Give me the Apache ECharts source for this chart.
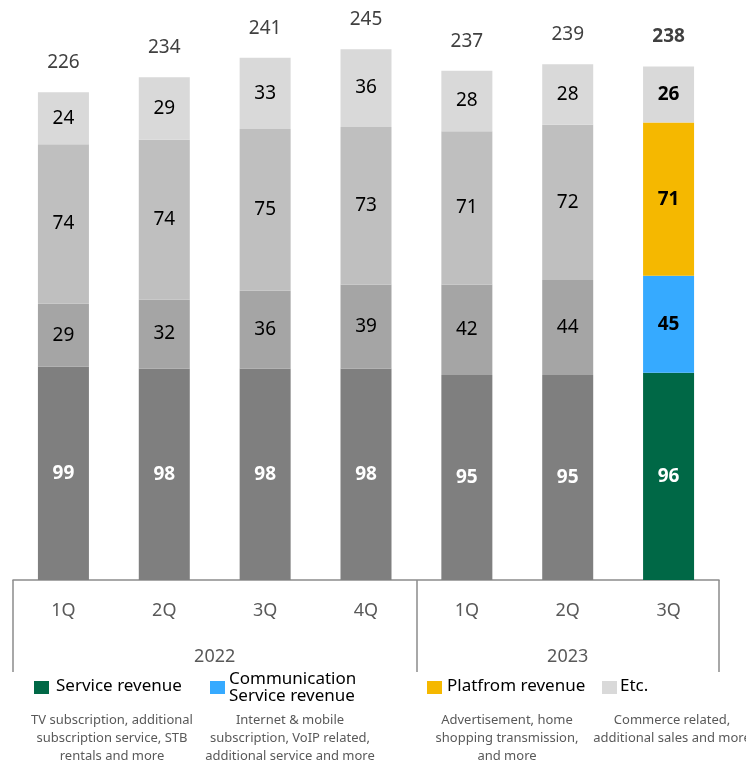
<!DOCTYPE html>
<html>
<head>
<meta charset="utf-8">
<script src="https://cdn.jsdelivr.net/npm/echarts@6/dist/echarts.min.js"></script>
<style>
  html, body { margin: 0; padding: 0; background: #fff; }
  #main { width: 746px; height: 763px; }
</style>
</head>
<body>
<div id="main"></div>
<script>
// data
var quarters = ["1Q", "2Q", "3Q", "4Q", "1Q", "2Q", "3Q"];
var years = ["2022", "2023"];
var yearSpans = [4, 3]; // quarters in each year
var service = [99, 98, 98, 98, 95, 95, 96];
var communication = [29, 32, 36, 39, 42, 44, 45];
var platform = [74, 74, 75, 73, 71, 72, 71];
var etc = [24, 29, 33, 36, 28, 28, 26];
var totals = [226, 234, 241, 245, 237, 239, 238];

var names = ["Service revenue", "Communication\nService revenue", "Platfrom revenue", "Etc."];
var notes = [
  "TV subscription, additional\nsubscription service, STB\nrentals and more",
  "Internet & mobile\nsubscription, VoIP related,\nadditional service and more",
  "Advertisement, home\nshopping transmission,\nand more",
  "Commerce related,\nadditional sales and more"
];

var FONT = "Noto Sans";
var grayColors = ["#7f7f7f", "#a5a5a5", "#bfbfbf", "#d9d9d9"];
var colors = ["#006846", "#36aaff", "#f5b800", "#d9d9d9"];
var lastIdx = quarters.length - 1;

// year label positions / separators on a 0..7 scale
var yearCenters = [], yearBounds = [0], acc = 0;
yearSpans.forEach(function (s) { yearCenters.push(acc + s / 2); acc += s; yearBounds.push(acc); });

function makeSeries(idx, values, labelColor) {
  return {
    name: names[idx],
    type: "bar",
    stack: "total",
    barWidth: 51,
    data: values.map(function (v, i) {
      var item = { value: v, itemStyle: { color: i === lastIdx ? colors[idx] : grayColors[idx] } };
      if (i === lastIdx) item.label = { fontWeight: "bold" };
      return item;
    }),
    label: {
      show: true,
      position: "inside",
      color: labelColor,
      fontFamily: FONT,
      fontSize: 19,
      fontWeight: idx === 0 ? "bold" : "normal"
    }
  };
}

var series = [
  makeSeries(0, service, "#ffffff"),
  makeSeries(1, communication, "#000000"),
  makeSeries(2, platform, "#000000"),
  makeSeries(3, etc, "#000000"),
  {
    name: "total",
    type: "bar",
    stack: "total",
    barWidth: 51,
    data: totals.map(function () { return 0; }),
    itemStyle: { color: "transparent" },
    label: {
      show: true,
      position: "top",
      distance: 20,
      color: "#404040",
      fontFamily: FONT,
      fontSize: 19,
      formatter: function (p) { return totals[p.dataIndex]; },
      rich: {}
    }
  }
];
series[4].data = totals.map(function (t, i) {
  return i === lastIdx ? { value: 0, label: { fontWeight: "bold" } } : 0;
});

// legend as graphic elements
var legendX = [34, 210, 427, 602];
var legendTextX = [56, 229, 447, 620];
var noteX = [112, 290, 507, 672];
var graphics = [];
names.forEach(function (n, i) {
  graphics.push({
    type: "rect",
    left: legendX[i], top: 681,
    shape: { width: 15, height: 13 },
    style: { fill: colors[i] }
  });
  graphics.push({
    type: "text",
    left: legendTextX[i], top: i === 1 ? 671 : 678,
    style: { text: n, fill: "#000", font: "17px '" + FONT + "'", lineHeight: 17 }
  });
  graphics.push({
    type: "text",
    x: noteX[i], y: 711,
    style: {
      text: notes[i], fill: "#595959", font: "13px '" + FONT + "'",
      lineHeight: 18, align: "center", verticalAlign: "top"
    }
  });
});

var chart = echarts.init(document.getElementById("main"));
chart.setOption({
  backgroundColor: "#ffffff",
  animation: false,
  grid: { left: 13, right: 27, top: 19, bottom: 183 },
  xAxis: [
    {
      type: "category",
      data: quarters,
      axisLine: { lineStyle: { color: "#8c8c8c", width: 1.5 } },
      axisTick: { show: false },
      axisLabel: { color: "#595959", fontFamily: FONT, fontSize: 18, margin: 22 }
    },
    {
      type: "value",
      min: 0,
      max: quarters.length,
      position: "bottom",
      axisLine: { show: false },
      splitLine: { show: false },
      axisTick: {
        show: true,
        length: 92,
        customValues: yearBounds,
        lineStyle: { color: "#8c8c8c", width: 1.5 }
      },
      axisLabel: {
        color: "#595959",
        fontFamily: FONT,
        fontSize: 18,
        margin: 68,
        customValues: yearCenters,
        formatter: function (v) {
          var k = yearCenters.indexOf(v);
          return k >= 0 ? years[k] : "";
        }
      }
    }
  ],
  yAxis: { type: "value", min: 0, max: 260, show: false },
  series: series,
  graphic: graphics
});
</script>
</body>
</html>
